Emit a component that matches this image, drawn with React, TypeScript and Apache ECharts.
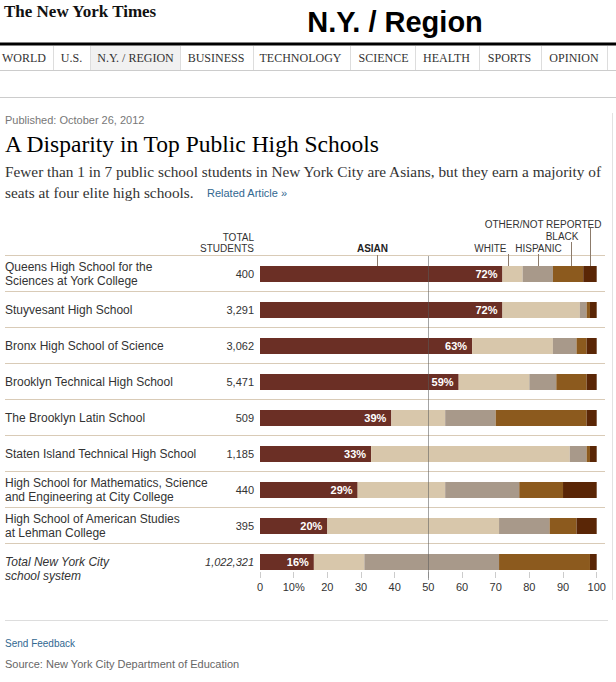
import React, { useEffect, useRef } from "react";
import * as echarts from "echarts";

const schools = [
  "Queens High School for the\nSciences at York College",
  "Stuyvesant High School",
  "Bronx High School of Science",
  "Brooklyn Technical High School",
  "The Brooklyn Latin School",
  "Staten Island Technical High School",
  "High School for Mathematics, Science\nand Engineering at City College",
  "High School of American Studies\nat Lehman College",
  "Total New York City\nschool system",
];
const totals = ["400", "3,291", "3,062", "5,471", "509", "1,185", "440", "395", "1,022,321"];
const asian = [72, 72, 63, 59, 39, 33, 29, 20, 16];
const white = [6, 23, 24, 21, 16, 59, 26, 51, 15];
const hispanic = [9, 2, 7, 8, 15, 5, 22, 15, 40];
const black = [9, 1, 3, 9, 27, 1, 13, 8, 27];
const other = [4, 2, 3, 3, 3, 2, 10, 6, 2];
const groupNames = ["ASIAN", "WHITE", "HISPANIC", "BLACK", "OTHER/NOT REPORTED"];
const xTickLabels = ["0", "10%", "20", "30", "40", "50", "60", "70", "80", "90", "100"];
const navItems = ["WORLD", "U.S.", "N.Y. / REGION", "BUSINESS", "TECHNOLOGY", "SCIENCE", "HEALTH", "SPORTS", "OPINION"];

const COLORS = ["#6b2f25", "#d8c7ab", "#a8998a", "#8c5a1e", "#5a2606"];
const SANS = '"Liberation Sans", Arial, sans-serif';
const SERIF = '"Liberation Serif", "Times New Roman", serif';
const NAV_CENTERS = [24, 71.5, 135.5, 216, 300.5, 383.5, 446.5, 509.5, 574];
const NAV_SEPS = [53, 90, 180, 253, 350, 415, 479, 541, 607];

function txt(x: number, y: number, text: string, font: string, fill: string, align = "left", z = 10) {
  return {
    type: "text",
    x,
    y,
    z,
    silent: true,
    style: { text, font, fill, align, verticalAlign: "middle" },
  };
}
function ln(x1: number, y1: number, x2: number, y2: number, stroke: string, lineWidth = 1, z = 10) {
  return {
    type: "line",
    z,
    silent: true,
    shape: { x1, y1, x2, y2 },
    style: { stroke, lineWidth },
  };
}

export default function App() {
  const ref = useRef<HTMLDivElement>(null);
  useEffect(() => {
    document.body.style.margin = "0";
    const chart = echarts.init(ref.current!, null, { renderer: "svg" });
    const values = [asian, white, hispanic, black, other];
    const series: any[] = values.map((data, i) => ({
      name: groupNames[i],
      type: "bar",
      stack: "total",
      xAxisIndex: 0,
      yAxisIndex: 0,
      barWidth: 16,
      data,
      itemStyle: { color: COLORS[i] },
      label:
        i === 0
          ? {
              show: true,
              position: "insideRight",
              distance: 5,
              formatter: "{c}%",
              color: "#fff",
              fontWeight: "bold",
              fontSize: 11,
              fontFamily: SANS,
            }
          : { show: false },
      emphasis: { disabled: true },
    }));
    series[4].markLine = {
      silent: true,
      symbol: "none",
      label: { show: false },
      lineStyle: { color: "rgba(90,90,90,0.55)", width: 1, type: "solid" },
      data: [{ xAxis: 50 }],
    };

    const nameLabel = {
      align: "left",
      margin: 255,
      fontSize: 12,
      lineHeight: 14,
      color: "#333",
      fontFamily: SANS,
    };
    const lastIdx = schools.length - 1;

    chart.setOption({
      animation: false,
      backgroundColor: "#fff",
      grid: [
        { left: 260, width: 336.7, top: 256, height: 324, outerBoundsMode: "none" },
        { left: 5, width: 600, top: 255, height: 288, outerBoundsMode: "none" },
      ],
      xAxis: [
        {
          type: "value",
          gridIndex: 0,
          min: 0,
          max: 100,
          interval: 10,
          offset: -8,
          axisLine: { show: false },
          axisTick: { show: true, length: 6, lineStyle: { color: "#ccc" } },
          splitLine: { show: false },
          axisLabel: {
            margin: 9,
            fontSize: 11,
            color: "#333",
            fontFamily: SANS,
            formatter: (v: number) => xTickLabels[Math.round(v / 10)],
          },
        },
        { type: "value", gridIndex: 1, min: 0, max: 1, show: false },
      ],
      yAxis: [
        {
          type: "category",
          gridIndex: 0,
          inverse: true,
          data: schools.map((s, i) =>
            i === lastIdx ? { value: s, textStyle: { ...nameLabel, fontStyle: "italic" } } : s
          ),
          axisLine: { show: false },
          axisTick: { show: false },
          axisLabel: {
            ...nameLabel,
            interval: 0,
            formatter: (v: string, i: number) => (i === lastIdx ? "\n" + v : v),
          },
        },
        {
          type: "category",
          gridIndex: 0,
          position: "left",
          inverse: true,
          data: totals.map((s, i) =>
            i === totals.length - 1
              ? { value: s, textStyle: { fontStyle: "italic", fontSize: 11, color: "#333", fontFamily: SANS } }
              : s
          ),
          axisLine: { show: false },
          axisTick: { show: false },
          axisLabel: { margin: 6, fontSize: 11, color: "#333", fontFamily: SANS, interval: 0 },
        },
        {
          type: "category",
          gridIndex: 1,
          data: ["", "", "", "", "", "", "", ""],
          axisLine: { show: false },
          axisTick: { show: false },
          axisLabel: { show: false },
          splitLine: { show: true, interval: 0, lineStyle: { color: "#d9cbb7", width: 1 } },
        },
      ],
      series,
    });

    // Leader lines from first row's segment midpoints
    const row0 = values.map((v) => v[0]);
    const mids: number[] = [];
    let acc = 0;
    row0.forEach((v) => {
      mids.push(chart.convertToPixel({ xAxisIndex: 0 } as any, acc + v / 2) as number);
      acc += v;
    });
    const yC = chart.convertToPixel({ yAxisIndex: 0 } as any, 0) as number;
    const barTop = yC - 8;
    const lead = "#8c7b6b";
    const LBL = `10px ${SANS}`;
    const lx = mids.map((m) => Math.round(m) + 0.5);
    lx[0] -= 4;
    lx[1] -= 5;
    lx[3] += 3;
    const leaderTops = [255, 254, 254, 242, 228];

    const graphic: any[] = [
      // header
      txt(4, 11, "The New York Times", `bold 17px ${SERIF}`, "#111"),
      txt(395, 22, "N.Y. / Region", `bold 29px ${SANS}`, "#000", "center"),
      { type: "rect", z: 1, silent: true, shape: { x: 90, y: 45, width: 90, height: 25 }, style: { fill: "#f1f1f1" } },
      ln(0, 44, 616, 44, "#000", 3),
      ln(0, 70.5, 616, 70.5, "#ccc", 1),
      ...NAV_SEPS.map((x) => ln(x + 0.5, 46, x + 0.5, 70, "#ddd", 1)),
      ...navItems.map((t, i) => txt(NAV_CENTERS[i], 58, t, `12px ${SERIF}`, "#333", "center")),
      ln(0, 97.5, 616, 97.5, "#ccc", 1),
      ln(612.5, 113, 612.5, 600, "#e2e2e2", 1),
      txt(5, 120, "Published: October 26, 2012", `11px ${SANS}`, "#777"),
      txt(5, 144, "A Disparity in Top Public High Schools", `23.5px ${SERIF}`, "#000"),
      txt(
        5,
        171,
        "Fewer than 1 in 7 public school students in New York City are Asians, but they earn a majority of",
        `15.3px ${SERIF}`,
        "#333"
      ),
      txt(5, 192, "seats at four elite high schools.", `15.3px ${SERIF}`, "#333"),
      txt(207, 193, "Related Article »", `11px ${SANS}`, "#326891"),
      // column headers
      txt(254, 237, "TOTAL", LBL, "#333", "right"),
      txt(254, 248, "STUDENTS", LBL, "#333", "right"),
      txt(lx[0] - 5, 248, groupNames[0], `bold 10px ${SANS}`, "#222", "center"),
      txt(lx[1] - 2, 248, groupNames[1], LBL, "#333", "right"),
      txt(lx[2], 248, groupNames[2], LBL, "#333", "center"),
      txt(lx[3] + 7, 236, groupNames[3], LBL, "#333", "right"),
      txt(lx[4] + 11, 224, groupNames[4], LBL, "#333", "right"),
      ...lx.map((x, i) => ln(x, leaderTops[i], x, barTop, lead, 1, 20)),
      // footer
      ln(5, 620.5, 608, 620.5, "#ddd", 1),
      txt(5, 643, "Send Feedback", `10px ${SANS}`, "#326891"),
      txt(5, 664, "Source: New York City Department of Education", `11px ${SANS}`, "#666"),
    ];
    chart.setOption({ graphic });

    return () => chart.dispose();
  }, []);
  return <div ref={ref} style={{ width: 616, height: 682 }} />;
}
